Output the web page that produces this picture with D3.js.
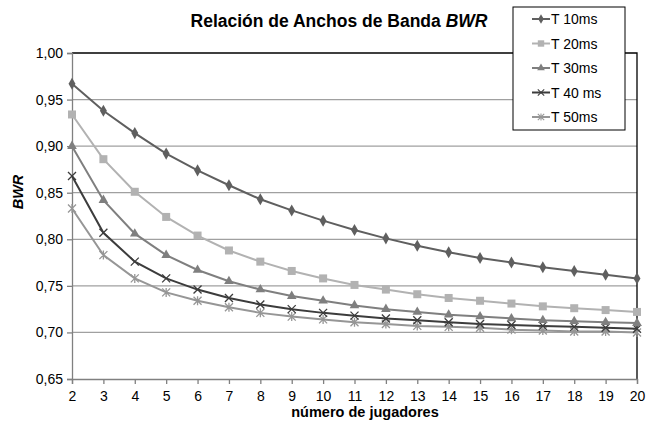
<!DOCTYPE html>
<html>
<head>
<meta charset="utf-8">
<script src="https://cdn.jsdelivr.net/npm/d3@7"></script>
<style>
  body { margin: 0; background: #fff; }
  text { font-family: "Liberation Sans", Arial, sans-serif; }
</style>
</head>
<body>
<div id="chart"></div>
<script>
// data
var players = [2, 3, 4, 5, 6, 7, 8, 9, 10, 11, 12, 13, 14, 15, 16, 17, 18, 19, 20];
var seriesNames = ["T 10ms", "T 20ms", "T 30ms", "T 40 ms", "T 50ms"];
var t10 = [0.967, 0.938, 0.914, 0.892, 0.874, 0.858, 0.843, 0.831, 0.820, 0.810, 0.801, 0.793, 0.786, 0.780, 0.775, 0.770, 0.766, 0.762, 0.758];
var t20 = [0.934, 0.886, 0.851, 0.824, 0.804, 0.788, 0.776, 0.766, 0.758, 0.751, 0.746, 0.741, 0.737, 0.734, 0.731, 0.728, 0.726, 0.724, 0.722];
var t30 = [0.900, 0.842, 0.806, 0.783, 0.767, 0.755, 0.746, 0.739, 0.734, 0.729, 0.725, 0.722, 0.719, 0.717, 0.715, 0.713, 0.712, 0.711, 0.710];
var t40 = [0.868, 0.807, 0.776, 0.758, 0.746, 0.737, 0.730, 0.725, 0.721, 0.718, 0.715, 0.713, 0.711, 0.709, 0.708, 0.707, 0.706, 0.705, 0.704];
var t50 = [0.833, 0.783, 0.758, 0.743, 0.734, 0.727, 0.721, 0.717, 0.714, 0.711, 0.709, 0.707, 0.706, 0.705, 0.703, 0.702, 0.701, 0.701, 0.700];
var yTicks = [0.65, 0.70, 0.75, 0.80, 0.85, 0.90, 0.95, 1.00];

var allSeries = [t10, t20, t30, t40, t50];
var colors = ["#5f5f5f", "#b2b2b2", "#7f7f7f", "#3c3c3c", "#969696"];
var symbols = ["diamond", "square", "triangle", "cross", "star"];

var width = 656, height = 426;
var margin = { top: 53, right: 19, bottom: 47, left: 72 };
var iw = width - margin.left - margin.right;
var ih = height - margin.top - margin.bottom;

var svg = d3.select("#chart").append("svg")
  .attr("width", width)
  .attr("height", height);

var x = d3.scaleLinear().domain([2, 20]).range([0, iw]);
var y = d3.scaleLinear().domain([0.65, 1.0]).range([ih, 0]);

var g = svg.append("g").attr("transform", `translate(${margin.left},${margin.top})`);

// grid lines
g.append("g")
  .selectAll("line")
  .data(yTicks.slice(1, -1))
  .enter().append("line")
  .attr("x1", 0).attr("x2", iw)
  .attr("y1", d => y(d)).attr("y2", d => y(d))
  .attr("stroke", "#a0a0a0")
  .attr("stroke-width", 1.2);

// plot border top/right
g.append("path")
  .attr("d", `M0,${y(1.0)}H${iw}V${ih}`)
  .attr("fill", "none")
  .attr("stroke", "#000")
  .attr("stroke-width", 1.3);

// axes
var yAxis = g.append("g")
  .call(d3.axisLeft(y).tickValues(yTicks).tickSize(5).tickFormat(d => d3.format(".2f")(d).replace(".", ",")));
var xAxis = g.append("g")
  .attr("transform", `translate(0,${ih})`)
  .call(d3.axisBottom(x).tickValues(players).tickSize(5).tickFormat(d3.format("d")));

[yAxis, xAxis].forEach(function (a) {
  a.select(".domain").attr("stroke", "#808080").attr("stroke-width", 1.3);
  a.selectAll(".tick line").attr("stroke", "#808080").attr("stroke-width", 1.3);
  a.selectAll(".tick text").style("font-size", "14px").attr("fill", "#000");
});
yAxis.selectAll(".tick text").attr("x", -9);
xAxis.selectAll(".tick text").attr("y", 12);

// marker drawing
function drawMarker(sel, type, color) {
  if (type === "diamond") {
    sel.append("path").attr("d", d3.symbol(d3.symbolDiamond, 42)()).attr("fill", color);
  } else if (type === "square") {
    sel.append("path").attr("d", d3.symbol(d3.symbolSquare, 64)()).attr("fill", color);
  } else if (type === "triangle") {
    sel.append("path").attr("d", d3.symbol(d3.symbolTriangle, 40)()).attr("fill", color);
  } else if (type === "cross") {
    sel.append("path").attr("d", "M-4,-4L4,4M-4,4L4,-4").attr("stroke", color).attr("stroke-width", 1.3).attr("fill", "none");
  } else {
    sel.append("path").attr("d", "M-4,-4L4,4M-4,4L4,-4M0,-4.5V4.5").attr("stroke", color).attr("stroke-width", 1.3).attr("fill", "none");
  }
}

var line = d3.line()
  .x((d, i) => x(players[i]))
  .y(d => y(d));

// draw from last to first so T 10ms ends on top
for (var s = allSeries.length - 1; s >= 0; s--) {
  g.append("path")
    .datum(allSeries[s])
    .attr("d", line)
    .attr("fill", "none")
    .attr("stroke", colors[s])
    .attr("stroke-width", 2);

  var pts = g.append("g")
    .selectAll("g")
    .data(allSeries[s])
    .enter().append("g")
    .attr("transform", (d, i) => `translate(${x(players[i])},${y(d)})`);
  var sIdx = s;
  pts.each(function () { drawMarker(d3.select(this), symbols[sIdx], colors[sIdx]); });
}

// title
var title = svg.append("text")
  .attr("x", 339).attr("y", 27)
  .attr("text-anchor", "middle")
  .style("font-size", "17.5px")
  .style("font-weight", "bold");
title.append("tspan").text("Relación de Anchos de Banda ");
title.append("tspan").style("font-style", "italic").text("BWR");

// axis titles
svg.append("text")
  .attr("x", 365).attr("y", 417)
  .attr("text-anchor", "middle")
  .style("font-size", "14.5px")
  .style("font-weight", "bold")
  .text("número de jugadores");

svg.append("text")
  .attr("transform", "translate(23,192) rotate(-90)")
  .attr("text-anchor", "middle")
  .style("font-size", "14.5px")
  .style("font-weight", "bold")
  .style("font-style", "italic")
  .text("BWR");

// legend
var legend = svg.append("g").attr("transform", "translate(513,7)");
legend.append("rect")
  .attr("width", 112).attr("height", 123)
  .attr("fill", "#fff")
  .attr("stroke", "#000")
  .attr("stroke-width", 1);

var items = legend.selectAll("g.item")
  .data(seriesNames)
  .enter().append("g")
  .attr("class", "item")
  .attr("transform", (d, i) => `translate(0,${12 + i * 24.5})`);
items.append("line")
  .attr("x1", 19).attr("x2", 37)
  .attr("stroke", (d, i) => colors[i])
  .attr("stroke-width", 2);
items.each(function (d, i) {
  var m = d3.select(this).append("g").attr("transform", "translate(28,0) scale(0.8)");
  drawMarker(m, symbols[i], colors[i]);
});
items.append("text")
  .attr("x", 38).attr("y", 5)
  .style("font-size", "14px")
  .text(d => d);
</script>
</body>
</html>
